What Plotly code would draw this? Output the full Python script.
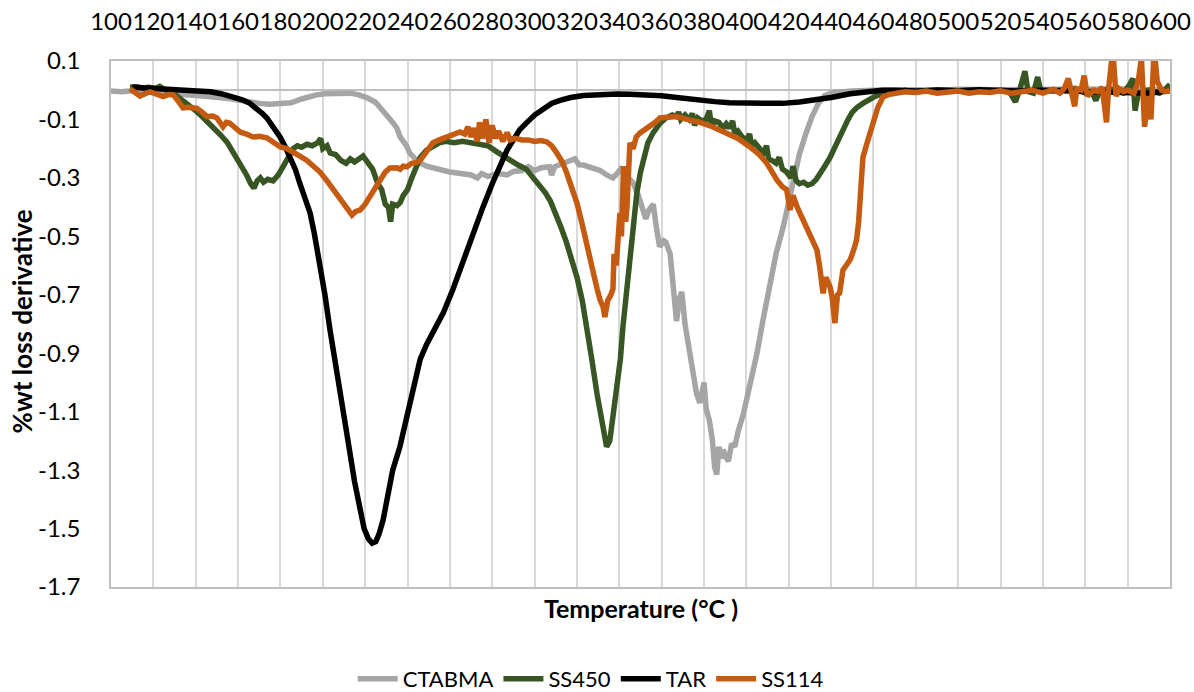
import plotly.graph_objects as go

# DTG curves: temperature (°C) and %wt loss derivative
CTABMA_T = [100, 105, 110, 115, 120, 125, 130, 135, 142, 150, 155, 161, 165, 170, 175, 180, 185, 190, 193, 197,
            201, 205, 209, 213, 217, 221, 225, 228, 231, 233, 235, 236.5, 238, 239.5, 241, 242.5, 245, 249, 254, 260,
            265, 270, 273, 275, 278, 283, 287, 290, 294, 297, 300, 303, 307, 308, 309.5, 313, 316, 319, 321, 323,
            327, 331, 334, 337, 339, 340.5, 343, 346.5, 349, 350.5, 352.5, 354, 356, 357.5, 359, 361, 362, 364,
            366, 367, 368.5, 369.5, 371, 373, 375, 376.5, 378, 379, 380, 381, 382.5, 384, 385, 386, 387, 388,
            389, 390, 391.5, 393, 394.5, 396, 398.5, 401, 405, 408, 411, 414, 417.3, 420, 422.5, 425, 428, 431,
            434, 437, 441, 445, 450, 460, 470, 480, 490, 500, 520, 540, 560, 580, 600]
CTABMA_V = [-0.003, -0.005, -0.002, -0.006, -0.008, -0.010, -0.012, -0.014, -0.018, -0.024, -0.028, -0.035, -0.042,
            -0.045, -0.048, -0.047, -0.043, -0.030, -0.022, -0.016, -0.012, -0.010, -0.008, -0.010, -0.016, -0.026,
            -0.042, -0.065, -0.090, -0.110, -0.130, -0.160, -0.175, -0.190, -0.215, -0.228, -0.245, -0.260, -0.270,
            -0.280, -0.285, -0.290, -0.300, -0.285, -0.295, -0.285, -0.290, -0.278, -0.275, -0.262, -0.275, -0.265,
            -0.262, -0.290, -0.262, -0.250, -0.243, -0.235, -0.255, -0.256, -0.265, -0.275, -0.290, -0.300, -0.285,
            -0.270, -0.290, -0.317, -0.360, -0.390, -0.440, -0.410, -0.390, -0.470, -0.535, -0.515, -0.520, -0.560,
            -0.700, -0.790, -0.710, -0.690, -0.800, -0.880, -0.970, -1.040, -1.070, -1.020, -1.000, -1.090, -1.130,
            -1.200, -1.290, -1.315, -1.220, -1.260, -1.230, -1.250, -1.270, -1.210, -1.220, -1.170, -1.110, -1.030,
            -0.900, -0.780, -0.660, -0.560, -0.470, -0.380, -0.300, -0.220, -0.150, -0.090, -0.045, -0.018, -0.008,
            -0.004, -0.003, 0.000, 0.002, 0.002, 0.000, 0.003, 0.002, 0.003, 0.002, 0.004, 0.000]

SS450_T = [109, 112, 115, 118, 121, 123, 125, 128, 131, 134, 137, 140, 143, 146, 149, 152, 155, 158, 161, 164,
           166, 167.5, 169, 170.5, 172, 174, 176.5, 179, 181, 183.5, 186, 188, 190, 192.5, 195, 197.5, 199, 200,
           202, 203.5, 206, 208.5, 211, 213, 215, 217, 219, 221, 223.5, 226, 227.8, 229.5, 231, 232, 233, 235,
           236.5, 238, 240, 242, 244, 246, 249, 252, 255, 258, 262, 266, 270, 274, 278, 282, 285, 288, 292, 296,
           299, 302, 305, 307.5, 310, 312.5, 315, 317.5, 320, 322.5, 324.7, 327, 329.5, 331.5, 333, 334, 335.5,
           337, 339, 340.5, 341.7, 343.5, 345, 346.5, 348.3, 350, 351.5, 353.5, 356, 359, 362, 365, 367, 368,
           369, 371, 373, 374.5, 375.5, 377, 379, 381, 382.5, 383.5, 385, 387, 389, 390.5, 392, 393.5, 394.5,
           396, 398, 400, 401.5, 402.5, 404, 406.4, 408, 409.5, 410.5, 412, 414, 415.5, 417, 419, 421, 422,
           423.5, 425, 427, 429, 431, 433, 435, 437, 439.5, 442, 444, 446, 448, 450, 452, 455, 458, 461, 465,
           470, 475, 480, 490, 500, 510, 515, 520, 524, 527, 529, 531.5, 533, 535.5, 537.5, 539, 545, 550, 555,
           560, 563, 565, 567, 572, 578, 581, 582.5, 583.5, 585, 590, 595, 598, 600]
SS450_V = [0.010, 0.012, 0.008, 0.010, 0.006, 0.013, 0.004, -0.005, -0.020, -0.035, -0.050, -0.070, -0.090, -0.110,
           -0.130, -0.155, -0.180, -0.215, -0.250, -0.290, -0.320, -0.335, -0.310, -0.300, -0.315, -0.305, -0.310,
           -0.290, -0.265, -0.235, -0.200, -0.190, -0.195, -0.185, -0.190, -0.180, -0.165, -0.200, -0.190, -0.215,
           -0.220, -0.240, -0.250, -0.235, -0.245, -0.235, -0.225, -0.245, -0.270, -0.320, -0.340, -0.390, -0.400,
           -0.450, -0.390, -0.395, -0.385, -0.360, -0.340, -0.300, -0.260, -0.230, -0.205, -0.190, -0.180, -0.175,
           -0.180, -0.175, -0.180, -0.185, -0.190, -0.210, -0.225, -0.240, -0.255, -0.270, -0.295, -0.320, -0.350,
           -0.380, -0.420, -0.470, -0.520, -0.580, -0.640, -0.720, -0.810, -0.920, -1.040, -1.130, -1.190, -1.220,
           -1.200, -1.120, -1.030, -0.920, -0.810, -0.680, -0.580, -0.460, -0.350, -0.280, -0.230, -0.180, -0.145,
           -0.115, -0.095, -0.085, -0.090, -0.075, -0.100, -0.085, -0.100, -0.080, -0.120, -0.095, -0.105, -0.100,
           -0.070, -0.125, -0.105, -0.110, -0.130, -0.115, -0.130, -0.105, -0.150, -0.140, -0.160, -0.170, -0.150,
           -0.190, -0.180, -0.200, -0.215, -0.190, -0.235, -0.240, -0.250, -0.230, -0.270, -0.280, -0.300, -0.260,
           -0.310, -0.320, -0.315, -0.325, -0.320, -0.305, -0.285, -0.260, -0.230, -0.190, -0.160, -0.130, -0.100,
           -0.075, -0.060, -0.045, -0.030, -0.020, -0.010, -0.005, 0.000, -0.005, 0.002, -0.002, 0.000, -0.005,
           0.000, -0.003, -0.040, 0.000, 0.065, -0.005, -0.010, 0.045, -0.005, -0.002, 0.000, 0.005, -0.010,
           -0.005, -0.035, 0.000, 0.004, -0.010, 0.020, 0.040, -0.070, -0.010, 0.000, -0.010, 0.005, 0.020]

TAR_T = [110, 115, 120, 130, 140, 147, 152, 157.6, 162, 165.6, 169, 171.5, 173.6, 176, 178, 179.8, 182, 184.5,
         187, 189.2, 191.5, 194, 196, 198.7, 201, 203.4, 205.5, 208, 210.5, 212.8, 215, 217.6, 219.5, 221.5,
         223.3, 225, 226.5, 228.5, 230.5, 233, 236.4, 238.5, 241, 243.5, 246, 249, 252, 254.5, 257, 261.5, 265,
         268, 271, 275.6, 280, 283.7, 287, 290, 293, 296.4, 300, 304, 308, 312, 317, 323, 330, 339, 345, 350,
         355, 360, 365, 370, 378, 385, 392, 400, 408, 417, 425, 433, 440, 449, 455, 464, 470, 480, 490, 500,
         510, 520, 530, 540, 550, 560, 570, 580, 590, 600]
TAR_V = [0.010, 0.008, 0.006, 0.005, 0.002, -0.005, -0.012, -0.023, -0.033, -0.045, -0.063, -0.080, -0.095, -0.120,
         -0.140, -0.160, -0.190, -0.230, -0.270, -0.320, -0.370, -0.420, -0.490, -0.600, -0.700, -0.820, -0.920,
         -1.020, -1.140, -1.240, -1.340, -1.440, -1.500, -1.535, -1.550, -1.545, -1.520, -1.470, -1.390, -1.300,
         -1.220, -1.150, -1.080, -1.000, -0.920, -0.870, -0.830, -0.790, -0.760, -0.680, -0.610, -0.550, -0.480,
         -0.400, -0.320, -0.260, -0.205, -0.170, -0.135, -0.110, -0.085, -0.065, -0.045, -0.035, -0.025, -0.018,
         -0.015, -0.013, -0.014, -0.015, -0.017, -0.019, -0.023, -0.028, -0.034, -0.039, -0.043, -0.045, -0.047,
         -0.045, -0.040, -0.033, -0.025, -0.012, -0.007, 0.000, 0.000, -0.003, 0.000, -0.002, 0.002, -0.002,
         -0.003, 0.000, -0.002, -0.005, -0.003, -0.006, -0.010, -0.002]

SS114_T = [109, 111, 113.7, 116, 118.4, 121, 124.6, 127, 129.4, 131.5, 134, 137, 140.6, 143, 145.3, 148, 150,
           152.9, 154.5, 156, 158.5, 161, 164, 167, 170, 173.6, 177, 180, 183, 186, 189, 192.5, 195.5, 198.7,
           202, 205, 207.5, 209.5, 212, 213.8, 215.5, 217.6, 220, 222.3, 225, 227, 229.5, 231.7, 235, 236.5,
           238, 239.7, 242, 244, 246, 248, 250, 252, 255, 258.6, 261, 264.8, 267, 268.5, 270, 271, 273, 274,
           275.6, 277, 278.5, 280, 281.5, 283, 285, 287, 288.4, 291, 294, 297, 300, 303, 305.8, 308, 310.5, 313,
           315, 317.5, 320, 322.5, 324.7, 327, 329.5, 331, 332.3, 333.2, 334.5, 336, 337, 337.5, 338.5, 340.3,
           341, 342, 343, 343.6, 344.5, 345, 346.5, 348, 349.8, 352, 354.5, 357, 359.2, 363, 367, 372, 378, 384,
           390.8, 396, 401.7, 406, 409.7, 412, 414.4, 417, 419, 420.6, 422, 424, 426.5, 428.6, 431, 433.3, 434.5,
           436.2, 437.5, 439.5, 440.5, 441.8, 443, 444, 445.6, 447, 449, 450.5, 452, 453, 453.6, 455, 457, 460,
           462, 464.5, 467, 471, 475, 480, 485, 490, 495, 500, 505, 510, 515, 520, 525, 530, 535, 540, 545, 548,
           550, 552, 553.5, 555, 556, 558, 559.5, 561, 564, 566, 568, 570, 571, 573, 574.5, 576, 578, 580, 583,
           585, 586.5, 588, 589.5, 591, 592.5, 594, 596, 598, 600]
SS114_V = [0.005, -0.005, -0.020, -0.012, -0.006, -0.012, -0.022, -0.015, -0.016, -0.035, -0.060, -0.058, -0.062,
           -0.075, -0.090, -0.088, -0.095, -0.125, -0.110, -0.112, -0.130, -0.143, -0.150, -0.160, -0.158, -0.163,
           -0.180, -0.194, -0.200, -0.215, -0.225, -0.240, -0.260, -0.280, -0.310, -0.340, -0.365, -0.386, -0.410,
           -0.427, -0.415, -0.410, -0.390, -0.365, -0.330, -0.307, -0.280, -0.266, -0.265, -0.270, -0.260, -0.262,
           -0.250, -0.248, -0.240, -0.220, -0.200, -0.180, -0.170, -0.160, -0.158, -0.143, -0.150, -0.125, -0.160,
           -0.130, -0.175, -0.110, -0.165, -0.100, -0.180, -0.120, -0.165, -0.140, -0.175, -0.145, -0.170, -0.165,
           -0.170, -0.170, -0.175, -0.172, -0.177, -0.190, -0.215, -0.245, -0.280, -0.330, -0.386, -0.460, -0.536,
           -0.610, -0.680, -0.720, -0.740, -0.776, -0.720, -0.700, -0.680, -0.560, -0.600, -0.420, -0.500, -0.260,
           -0.450, -0.400, -0.250, -0.180, -0.200, -0.160, -0.146, -0.135, -0.126, -0.110, -0.095, -0.093, -0.090,
           -0.100, -0.110, -0.125, -0.146, -0.165, -0.194, -0.220, -0.250, -0.280, -0.307, -0.330, -0.340, -0.410,
           -0.360, -0.400, -0.440, -0.470, -0.510, -0.547, -0.600, -0.695, -0.640, -0.673, -0.710, -0.797, -0.700,
           -0.694, -0.615, -0.600, -0.580, -0.550, -0.513, -0.450, -0.376, -0.230, -0.180, -0.112, -0.060, -0.023,
           -0.015, -0.010, -0.005, -0.008, -0.003, -0.010, -0.005, -0.003, -0.010, -0.005, -0.008, -0.002, -0.010,
           -0.005, 0.000, -0.010, 0.003, -0.010, 0.005, 0.040, -0.015, -0.055, 0.005, 0.000, 0.050, -0.020, 0.000,
           -0.005, 0.010, -0.110, 0.005, 0.140, -0.020, 0.005, -0.005, 0.000, -0.010, 0.030, 0.110, -0.125, -0.020,
           -0.100, 0.140, 0.030, 0.000, -0.005, 0.000]

X_TICKS = list(range(100, 601, 20))
X_TICK_LABELS = [str(t) for t in X_TICKS]
Y_TICKS = [0.1, -0.1, -0.3, -0.5, -0.7, -0.9, -1.1, -1.3, -1.5, -1.7]
Y_TICK_LABELS = ["0.1", "-0.1", "-0.3", "-0.5", "-0.7", "-0.9", "-1.1", "-1.3", "-1.5", "-1.7"]

SERIES = [
    ("CTABMA", CTABMA_T, CTABMA_V, "#A5A5A5"),
    ("SS450", SS450_T, SS450_V, "#375623"),
    ("TAR", TAR_T, TAR_V, "#000000"),
    ("SS114", SS114_T, SS114_V, "#C55A11"),
]

FONT = "Lato, 'Open Sans', sans-serif"

fig = go.Figure()
for name, xs, ys, color in SERIES:
    fig.add_trace(go.Scatter(
        x=xs, y=ys, name=name, mode="lines",
        line=dict(color=color, width=5.5),
    ))

fig.update_layout(
    width=1194, height=692,
    margin=dict(l=111, r=24, t=61, b=105, autoexpand=False),
    paper_bgcolor="white", plot_bgcolor="white",
    font=dict(family=FONT, color="#000000"),
    showlegend=True,
    legend=dict(
        orientation="h", x=0.453, xanchor="center", y=-0.175, yanchor="middle",
        font=dict(size=22, family=FONT, color="#000000"),
        bgcolor="rgba(0,0,0,0)", itemwidth=40,
    ),
    xaxis=dict(
        side="top", range=[100, 600], automargin=False,
        tickmode="array", tickvals=X_TICKS, ticktext=X_TICK_LABELS, tickangle=0,
        tickfont=dict(size=24, family=FONT, color="#000000"),
        ticks="outside", ticklen=20, tickcolor="rgba(0,0,0,0)",
        showgrid=True, gridcolor="#D9D9D9", gridwidth=1.5,
        showline=True, linecolor="#BFBFBF", linewidth=1.5, mirror=True,
        zeroline=False,
    ),
    yaxis=dict(
        range=[-1.7, 0.1], automargin=False,
        tickmode="array", tickvals=Y_TICKS, ticktext=Y_TICK_LABELS,
        tickfont=dict(size=24, family=FONT, color="#000000"),
        ticks="outside", ticklen=24, tickcolor="rgba(0,0,0,0)",
        showgrid=False,
        zeroline=True, zerolinecolor="#BFBFBF", zerolinewidth=1.5,
        showline=True, linecolor="#BFBFBF", linewidth=1.5, mirror=True,
    ),
    annotations=[
        dict(text="<b>Temperature (°C )</b>", xref="paper", yref="paper",
             x=0.5, y=-0.04, xanchor="center", yanchor="middle", showarrow=False,
             font=dict(size=25, family=FONT, color="#000000")),
        dict(text="<b>%wt loss derivative</b>", xref="paper", yref="paper",
             x=-0.084, y=0.505, xanchor="center", yanchor="middle", textangle=-90, showarrow=False,
             font=dict(size=26, family=FONT, color="#000000")),
    ],
)

fig.write_html("out.html")
